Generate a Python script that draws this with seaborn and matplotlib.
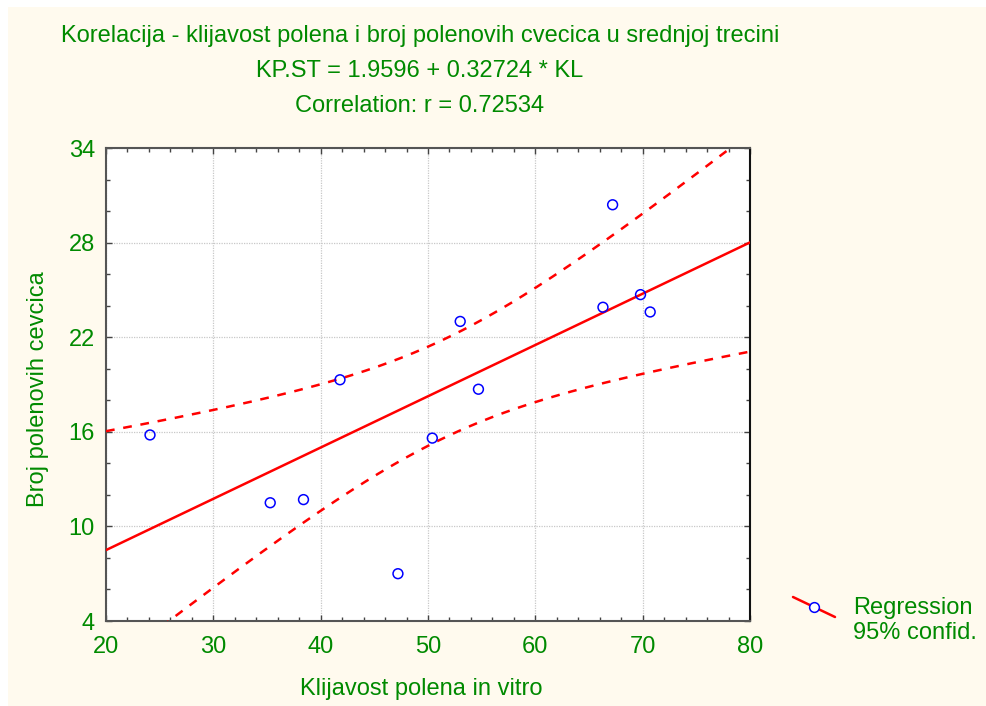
import numpy as np
import pandas as pd
import matplotlib
matplotlib.use("Agg")
import matplotlib.pyplot as plt
import seaborn as sns
from matplotlib.lines import Line2D
from matplotlib.patches import Rectangle

# data
klijavost = [24.1, 35.3, 38.4, 41.8, 47.2, 50.4, 53.0, 54.7, 66.3, 67.2, 69.8, 70.7]
broj_cevcica = [15.8, 11.5, 11.7, 19.3, 7.0, 15.6, 23.0, 18.7, 23.9, 30.4, 24.7, 23.6]

x_ticks = [20, 30, 40, 50, 60, 70, 80]
y_ticks = [4, 10, 16, 22, 28, 34]

title_lines = [
    "Korelacija - klijavost polena i broj polenovih cvecica u srednjoj trecini",
    "KP.ST = 1.9596 + 0.32724 * KL",
    "Correlation: r = 0.72534",
]

T_975 = 2.228  # t(0.975, df=10)

GREEN = "#008a00"
CREAM = "#fffaee"
FS = 17

sns.set_style("ticks")
plt.rcParams["font.family"] = ["Liberation Sans", "DejaVu Sans"]

df = pd.DataFrame({"KL": klijavost, "KPST": broj_cevcica})

# regression and 95% band
b, a = np.polyfit(df["KL"], df["KPST"], 1)
n = len(df)
resid = df["KPST"] - (a + b * df["KL"])
s = np.sqrt((resid ** 2).sum() / (n - 2))
xm = df["KL"].mean()
sxx = ((df["KL"] - xm) ** 2).sum()
xs = np.linspace(20, 80, 200)
fit = a + b * xs
half = T_975 * s * np.sqrt(1 / n + (xs - xm) ** 2 / sxx)
band = pd.DataFrame({"x": xs, "fit": fit, "lo": fit - half, "hi": fit + half})

fig = plt.figure(figsize=(9.86, 7.06), dpi=100)
fig.patch.set_facecolor("white")
fig.patches.append(Rectangle((8 / 986, 0), 1, 1 - 7 / 706, transform=fig.transFigure,
                             facecolor=CREAM, edgecolor="none", zorder=-10))

ax = fig.add_axes([106 / 986, 1 - 621 / 706, 644 / 986, 473 / 706])
ax.set_facecolor("white")

sns.lineplot(data=band, x="x", y="fit", ax=ax, color="red", lw=1.8, zorder=3)
sns.lineplot(data=band, x="x", y="lo", ax=ax, color="red", lw=1.8, zorder=3)
ax.lines[-1].set_dashes([3.5, 3.5])
sns.lineplot(data=band, x="x", y="hi", ax=ax, color="red", lw=1.8, zorder=3)
ax.lines[-1].set_dashes([3.5, 3.5])

sns.scatterplot(data=df, x="KL", y="KPST", ax=ax, marker="o", s=50,
                facecolor="none", edgecolor="blue", linewidth=1.1, zorder=4)

ax.set_xlim(20, 80)
ax.set_ylim(4, 34)
ax.set_xticks(x_ticks)
ax.set_yticks(y_ticks)
ax.set_xticks(np.arange(20, 81, 2), minor=True)
ax.set_yticks(np.arange(4, 35, 2), minor=True)
ax.tick_params(which="both", direction="in", top=True, right=True,
               color="#444444", labelcolor=GREEN, labelsize=FS)
ax.tick_params(which="major", length=4, width=1, pad=8)
ax.tick_params(axis="x", which="major", pad=11)
ax.tick_params(which="minor", length=3, width=1)
ax.grid(True, which="major", color="#c8c8c8", linestyle=(0, (1, 1)), lw=0.9)
for side in ["left", "bottom", "top"]:
    ax.spines[side].set_color("#555555")
    ax.spines[side].set_linewidth(1.5)
ax.spines["right"].set_color("#111111")
ax.spines["right"].set_linewidth(1.5)

ax.set_xlabel("Klijavost polena in vitro", color=GREEN, fontsize=FS)
ax.set_ylabel("Broj polenovih cevcica", color=GREEN, fontsize=FS)
ax.xaxis.set_label_coords(0.49, -(689 - 621) / 473)
ax.yaxis.set_label_coords(-(106 - 38) / 644, 0.49)
ax.xaxis.label.set_va("center")
ax.yaxis.label.set_va("center")

for i, line in enumerate(title_lines):
    fig.text(420 / 986, 1 - (36 + 35 * i) / 706, line, color=GREEN,
             fontsize=FS, ha="center", va="center")

# legend
fig.add_artist(Line2D([793 / 986, 835 / 986], [1 - 597 / 706, 1 - 617 / 706],
                      transform=fig.transFigure, color="red", lw=1.8))
fig.add_artist(Line2D([814 / 986], [1 - 607 / 706], transform=fig.transFigure,
                      marker="o", markersize=7, markerfacecolor="white",
                      markeredgecolor="blue", markeredgewidth=1.1, ls="none"))
fig.text(853 / 986, 1 - 608 / 706, "Regression", color=GREEN, fontsize=FS, va="center")
fig.text(853 / 986, 1 - 633 / 706, "95% confid.", color=GREEN, fontsize=FS, va="center")

fig.savefig("out.png", dpi=100, facecolor=fig.get_facecolor())
